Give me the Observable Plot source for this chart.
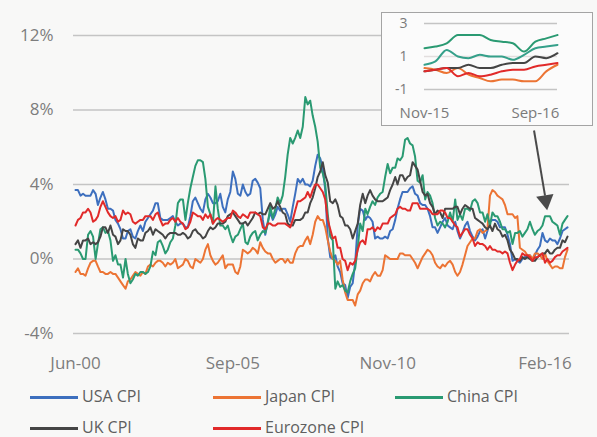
<!DOCTYPE html>
<html>
<head>
<meta charset="utf-8">
<script src="https://cdn.jsdelivr.net/npm/d3@7"></script>
<script src="https://cdn.jsdelivr.net/npm/@observablehq/plot@0.6"></script>
<style>
  html, body { margin: 0; padding: 0; background: #f8f8f7; }
  body { width: 597px; height: 437px; position: relative; overflow: hidden; font-family: "Open Sans", sans-serif; }
  #main { position: absolute; left: 0; top: 0; }
  #inset { position: absolute; left: 381px; top: 12px; width: 212px; height: 114px; box-sizing: border-box; border: 1px solid #a4a4a4; background: #fbfbfb; }
  .leg { position: absolute; font-size: 16px; color: #5f5f5f; line-height: 1; white-space: nowrap; }
  .sw { position: absolute; height: 2.5px; width: 48px; }
</style>
</head>
<body>
<div id="main"></div>
<div id="inset"></div>
<div id="legend"></div>
<script>
// ---- Data (monthly YoY CPI, %) Jun-2000 .. Nov-2016 ----
const seriesNames = ["USA CPI", "Japan CPI", "China CPI", "UK CPI", "Eurozone CPI"];
const seriesColors = ["#3d6fbe", "#ec7434", "#2a9a72", "#454545", "#e12a2a"];
const insetColors = ["#35a08a", "#ec7434", "#2a9a72", "#454545", "#e12a2a"];

const usa = [
  3.7, 3.7, 3.4, 3.5, 3.4, 3.4, 3.4,
  3.7, 3.5, 2.9, 3.3, 3.6, 3.2, 2.7, 2.7, 2.6, 2.1, 1.9, 1.6,
  1.1, 1.1, 1.5, 1.6, 1.2, 1.1, 1.5, 1.8, 1.5, 2.0, 2.2, 2.4,
  2.6, 3.0, 3.0, 2.2, 2.1, 2.1, 2.1, 2.2, 2.3, 2.0, 1.8, 1.9,
  1.9, 1.7, 1.7, 2.3, 3.1, 3.3, 3.0, 2.7, 2.5, 3.2, 3.5, 3.3,
  3.0, 3.0, 3.1, 3.5, 2.8, 2.5, 3.2, 3.6, 4.7, 4.3, 3.5, 3.4,
  4.0, 3.6, 3.4, 3.5, 4.2, 4.3, 4.1, 3.8, 2.1, 1.3, 2.0, 2.5,
  2.1, 2.4, 2.8, 2.6, 2.7, 2.7, 2.4, 2.0, 2.8, 3.5, 4.3, 4.1,
  4.3, 4.0, 4.0, 3.9, 4.2, 5.0, 5.6, 5.4, 4.9, 3.7, 1.1, 0.1,
  0.0, 0.2, -0.4, -0.7, -1.3, -1.4, -2.1, -1.5, -1.3, -0.2, 1.8, 2.7,
  2.6, 2.1, 2.3, 2.2, 2.0, 1.1, 1.2, 1.1, 1.1, 1.2, 1.1, 1.5,
  1.6, 2.1, 2.7, 3.2, 3.6, 3.6, 3.6, 3.8, 3.9, 3.5, 3.4, 3.0,
  2.9, 2.9, 2.7, 2.3, 1.7, 1.7, 1.4, 1.7, 2.0, 2.2, 1.8, 1.7,
  1.6, 2.0, 1.5, 1.1, 1.4, 1.8, 2.0, 1.5, 1.2, 1.0, 1.2, 1.5,
  1.6, 1.1, 1.5, 2.0, 2.1, 2.1, 2.0, 1.7, 1.7, 1.7, 1.3, 0.8,
  -0.1, 0.0, -0.1, -0.2, 0.0, 0.1, 0.2, 0.2, 0.0, 0.2, 0.5, 0.7,
  1.4, 1.0, 0.9, 1.1, 1.0, 1.0, 0.8, 1.1, 1.5, 1.6, 1.7
];
const japan = [
  -0.7, -0.5, -0.8, -0.8, -0.9, -0.5, -0.2,
  -0.1, -0.1, -0.4, -0.7, -0.7, -0.8, -0.8, -0.7, -0.8, -0.8, -1.0, -1.2,
  -1.4, -1.6, -1.2, -1.1, -0.9, -0.7, -0.8, -0.9, -0.7, -0.8, -0.4, -0.3,
  -0.4, -0.2, -0.1, -0.1, -0.2, -0.4, -0.2, -0.3, -0.2, 0.0, -0.5, -0.4,
  -0.3, 0.0, -0.1, -0.4, -0.5, 0.0, -0.1, -0.2, 0.0, 0.5, 0.8, 0.2,
  -0.1, -0.3, -0.2, 0.0, 0.2, -0.5, -0.3, -0.3, -0.3, -0.7, -0.8, -0.4,
  0.5, 0.4, 0.3, 0.4, 0.6, 0.5, 0.3, 0.9, 0.6, 0.4, 0.3, 0.3,
  0.0, -0.2, -0.1, 0.0, 0.0, -0.2, 0.0, -0.2, -0.2, 0.3, 0.6, 0.7,
  0.7, 1.0, 1.2, 0.8, 1.3, 2.0, 2.3, 2.1, 2.1, 1.7, 1.0, 0.4,
  0.0, -0.1, -0.3, -0.1, -1.1, -1.8, -2.2, -2.2, -2.2, -2.5, -1.9, -1.7,
  -1.3, -1.1, -1.1, -1.2, -0.9, -0.7, -0.9, -0.9, -0.6, 0.2, 0.1, 0.0,
  0.0, 0.0, 0.0, 0.3, 0.3, 0.2, 0.2, 0.2, 0.0, -0.2, -0.5, -0.2,
  0.1, 0.3, 0.5, 0.4, 0.2, -0.2, -0.4, -0.5, -0.3, -0.4, -0.2, -0.1,
  -0.3, -0.7, -0.9, -0.7, -0.3, 0.2, 0.7, 0.9, 1.1, 1.1, 1.5, 1.6,
  1.4, 1.5, 1.6, 3.4, 3.7, 3.6, 3.4, 3.3, 3.2, 2.9, 2.4, 2.4,
  2.4, 2.2, 2.3, 0.6, 0.5, 0.4, 0.2, 0.2, 0.0, 0.3, 0.3, 0.2,
  0.0, 0.3, -0.1, -0.3, -0.5, -0.4, -0.4, -0.5, -0.5, 0.1, 0.5
];
const china = [
  0.5, 0.5, 0.3, 0.0, 0.0, 1.3, 1.5,
  1.2, 0.0, 0.8, 1.6, 1.7, 1.4, 1.5, 1.0, -0.1, 0.2, -0.3, -0.3,
  -1.0, 0.0, -0.8, -1.3, -1.1, -0.8, -0.9, -0.7, -0.7, -0.8, -0.7, -0.4,
  0.4, 0.2, 0.9, 1.0, 0.7, 0.3, 0.5, 0.9, 1.1, 1.8, 3.0, 3.2,
  3.2, 2.1, 3.0, 3.8, 4.4, 5.0, 5.3, 5.3, 5.2, 4.3, 2.8, 2.4,
  1.9, 3.9, 2.7, 1.8, 1.8, 1.6, 1.8, 1.3, 0.9, 1.2, 1.3, 1.6,
  1.9, 0.9, 0.8, 1.2, 1.4, 1.5, 1.0, 1.3, 1.5, 1.4, 1.9, 2.8,
  2.2, 2.7, 3.3, 3.0, 3.4, 4.4, 5.6, 6.5, 6.2, 6.5, 6.9, 6.5,
  7.1, 8.7, 8.3, 8.5, 7.7, 7.1, 6.3, 4.9, 4.6, 4.0, 2.4, 1.2,
  1.0, -1.6, -1.2, -1.5, -1.4, -1.7, -1.8, -1.2, -0.8, -0.5, 0.6, 1.9,
  1.5, 2.7, 2.4, 2.8, 3.1, 2.9, 3.3, 3.5, 3.6, 4.4, 5.1, 4.6,
  4.9, 4.9, 5.4, 5.3, 5.5, 6.4, 6.5, 6.2, 6.1, 5.5, 4.2, 4.1,
  4.5, 3.2, 3.6, 3.4, 3.0, 2.2, 1.8, 2.0, 1.9, 1.7, 2.0, 2.5,
  2.0, 3.2, 2.1, 2.4, 2.1, 2.7, 2.7, 2.6, 3.1, 3.2, 3.0, 2.5,
  2.5, 2.0, 2.4, 1.8, 2.5, 2.3, 2.3, 2.0, 1.6, 1.6, 1.4, 1.5,
  0.8, 1.4, 1.4, 1.5, 1.2, 1.4, 1.6, 2.0, 1.6, 1.3, 1.5, 1.6,
  1.8, 2.3, 2.3, 2.3, 2.0, 1.9, 1.8, 1.3, 1.9, 2.1, 2.3
];
const uk = [
  0.8, 1.0, 0.6, 1.0, 1.0, 1.1, 0.8,
  0.9, 0.8, 0.9, 1.2, 1.7, 1.7, 1.4, 1.8, 1.3, 1.2, 0.8, 1.0,
  1.6, 1.5, 1.5, 1.3, 0.8, 0.6, 1.1, 1.0, 1.0, 1.4, 1.5, 1.7,
  1.3, 1.6, 1.5, 1.4, 1.3, 1.1, 1.3, 1.4, 1.4, 1.4, 1.3, 1.3,
  1.4, 1.3, 1.1, 1.2, 1.5, 1.6, 1.4, 1.3, 1.1, 1.2, 1.5, 1.7,
  1.6, 1.7, 1.9, 1.9, 1.9, 2.0, 2.3, 2.4, 2.5, 2.3, 2.1, 1.9,
  1.9, 2.0, 1.8, 2.0, 2.2, 2.5, 2.4, 2.5, 2.4, 2.4, 2.7, 3.0,
  2.7, 2.8, 3.1, 2.8, 2.5, 2.4, 1.9, 1.8, 1.8, 2.1, 2.1, 2.1,
  2.2, 2.5, 2.5, 3.0, 3.3, 3.8, 4.4, 4.7, 5.2, 4.5, 4.1, 3.1,
  3.0, 3.2, 2.9, 2.3, 2.2, 1.8, 1.8, 1.6, 1.1, 1.5, 1.9, 2.9,
  3.5, 3.0, 3.4, 3.7, 3.4, 3.2, 3.1, 3.1, 3.1, 3.2, 3.3, 3.7,
  4.0, 4.4, 4.0, 4.5, 4.5, 4.2, 4.4, 4.5, 5.2, 5.0, 4.8, 4.2,
  3.6, 3.4, 3.5, 3.0, 2.8, 2.4, 2.6, 2.5, 2.2, 2.7, 2.7, 2.7,
  2.7, 2.8, 2.8, 2.4, 2.7, 2.9, 2.8, 2.7, 2.7, 2.2, 2.1, 2.0,
  1.9, 1.7, 1.6, 1.8, 1.5, 1.9, 1.6, 1.5, 1.2, 1.3, 1.0, 0.5,
  0.3, 0.0, 0.0, -0.1, 0.1, 0.0, 0.1, 0.0, -0.1, -0.1, 0.1, 0.2,
  0.3, 0.3, 0.5, 0.3, 0.3, 0.5, 0.6, 0.6, 1.0, 0.9, 1.2
];
const eurozone = [
  1.8, 2.1, 2.2, 2.5, 2.5, 2.7, 2.5,
  2.0, 2.1, 2.3, 2.8, 3.1, 2.8, 2.5, 2.3, 2.2, 2.3, 2.0, 2.1,
  2.6, 2.4, 2.5, 2.4, 2.0, 1.9, 2.0, 2.1, 2.1, 2.3, 2.3, 2.3,
  2.1, 2.4, 2.5, 2.1, 1.8, 1.9, 1.9, 2.1, 2.2, 2.0, 2.2, 2.0,
  1.9, 1.6, 1.7, 2.0, 2.5, 2.4, 2.3, 2.3, 2.1, 2.4, 2.2, 2.4,
  1.9, 2.1, 2.2, 2.1, 2.0, 2.1, 2.2, 2.2, 2.6, 2.5, 2.3, 2.2,
  2.4, 2.3, 2.2, 2.5, 2.5, 2.5, 2.4, 2.3, 1.7, 1.6, 1.9, 1.9,
  1.8, 1.8, 1.9, 1.9, 1.9, 1.9, 1.8, 1.7, 2.1, 2.6, 3.1, 3.1,
  3.2, 3.3, 3.6, 3.3, 3.7, 4.0, 4.0, 3.8, 3.6, 3.2, 2.1, 1.6,
  1.1, 1.2, 0.6, 0.6, 0.0, -0.1, -0.6, -0.2, -0.3, -0.1, 0.5, 0.9,
  1.0, 0.8, 1.6, 1.6, 1.7, 1.5, 1.7, 1.6, 1.9, 1.9, 1.9, 2.2,
  2.3, 2.4, 2.7, 2.8, 2.7, 2.7, 2.6, 2.6, 3.0, 3.0, 3.0, 2.7,
  2.7, 2.7, 2.7, 2.6, 2.4, 2.4, 2.4, 2.6, 2.6, 2.5, 2.2, 2.2,
  2.0, 1.8, 1.7, 1.2, 1.4, 1.6, 1.6, 1.3, 1.1, 0.7, 0.9, 0.8,
  0.8, 0.7, 0.5, 0.7, 0.5, 0.5, 0.4, 0.4, 0.3, 0.4, 0.3, -0.2,
  -0.6, -0.3, -0.1, 0.0, 0.3, 0.2, 0.2, 0.1, -0.1, 0.1, 0.1, 0.2,
  0.3, -0.2, 0.0, -0.2, -0.1, 0.1, 0.2, 0.2, 0.4, 0.5, 0.6
];

const yTicks = [-4, 0, 4, 8, 12];
const xTickLabels = ["2000-06-01", "2005-09-01", "2010-11-01", "2016-02-01"];
const insetYTicks = [-1, 1, 3];
const insetXTickLabels = ["2015-11-01", "2016-09-01"];
const insetStart = "2015-11-01";

// arrow annotation (date, value in % on the main chart)
const arrowFrom = {date: "2015-09-20", value: 6.9};
const arrowTo = {date: "2016-02-01", value: 3.4};
const arrowHead = {date: "2016-02-08", value: 3.15};

// ---- Build ----
const startDate = new Date(Date.UTC(2000, 5, 1));
const endDate = new Date(Date.UTC(2016, 10, 1));
const months = d3.utcMonth.range(startDate, d3.utcMonth.offset(endDate, 1));
const all = [usa, japan, china, uk, eurozone];
const long = [];
all.forEach((arr, i) => arr.forEach((v, j) => long.push({series: seriesNames[i], date: months[j], value: v})));
const parse = s => new Date(s + "T00:00:00Z");
const insetStartDate = parse(insetStart);
const insetData = long.filter(d => d.date >= insetStartDate);

const main = Plot.plot({
  width: 597, height: 380,
  marginLeft: 75, marginRight: 30, marginTop: 35, marginBottom: 47,
  style: {background: "transparent", fontFamily: "Open Sans, sans-serif", fontSize: "17px", color: "#7d7d7d", overflow: "visible"},
  x: {type: "utc", domain: [startDate, endDate], ticks: xTickLabels.map(parse), tickFormat: d3.utcFormat("%b-%y"), tickSize: 0, tickPadding: 23, label: null},
  y: {domain: [-4, 12], ticks: yTicks, tickFormat: d => d + "%", tickSize: 0, tickPadding: 22, label: null},
  color: {domain: seriesNames, range: seriesColors},
  marks: [
    Plot.ruleY(yTicks, {stroke: "#c4c4c4", strokeWidth: 1.6, insetLeft: -2, insetRight: -2}),
    Plot.lineY(long, {x: "date", y: "value", z: "series", stroke: "series", strokeWidth: 2, strokeLinejoin: "round"}),
    Plot.link([{a: arrowFrom, b: arrowTo}], {x1: d => parse(d.a.date), y1: d => d.a.value, x2: d => parse(d.b.date), y2: d => d.b.value, stroke: "#4a4a4a", strokeWidth: 2}),
    Plot.dot([arrowHead], {x: d => parse(d.date), y: "value", symbol: "triangle", r: 6.5, fill: "#4a4a4a", stroke: "none", rotate: 171})
  ]
});
document.getElementById("main").appendChild(main);

const inset = Plot.plot({
  width: 210, height: 112,
  marginLeft: 42, marginRight: 35, marginTop: 10, marginBottom: 36,
  style: {background: "transparent", fontFamily: "Open Sans, sans-serif", fontSize: "14px", color: "#7a7a7a", overflow: "visible"},
  x: {type: "utc", domain: [insetStartDate, endDate], ticks: insetXTickLabels.map(parse), tickFormat: d3.utcFormat("%b-%y"), tickSize: 0, tickPadding: 18, label: null},
  y: {domain: [-1, 3], ticks: insetYTicks, tickSize: 0, tickPadding: 17, tickFormat: d => String(d), label: null},
  color: {domain: seriesNames, range: insetColors},
  marks: [
    Plot.ruleY(insetYTicks, {stroke: d => d === 1 ? "#e2dede" : "#c4c4c4", strokeWidth: 1.5}),
    Plot.lineY(insetData, {x: "date", y: "value", z: "series", stroke: "series", strokeWidth: 2, curve: "monotone-x"})
  ]
});
inset.querySelectorAll("g[aria-label='x-axis tick label'] text").forEach(t => t.setAttribute("font-size", "15"));
document.getElementById("inset").appendChild(inset);

// ---- Legend ----
const legendPos = [[30, 397], [213, 397], [395, 397], [30, 428], [213, 428]];
const legend = document.getElementById("legend");
seriesNames.forEach((name, i) => {
  const [x, y] = legendPos[i];
  const sw = document.createElement("div");
  sw.className = "sw";
  sw.style.left = x + "px"; sw.style.top = (y - 1) + "px"; sw.style.background = seriesColors[i];
  legend.appendChild(sw);
  const t = document.createElement("div");
  t.className = "leg";
  t.textContent = name;
  t.style.left = (x + 52) + "px"; t.style.top = (y - 9) + "px";
  legend.appendChild(t);
});
</script>
</body>
</html>
